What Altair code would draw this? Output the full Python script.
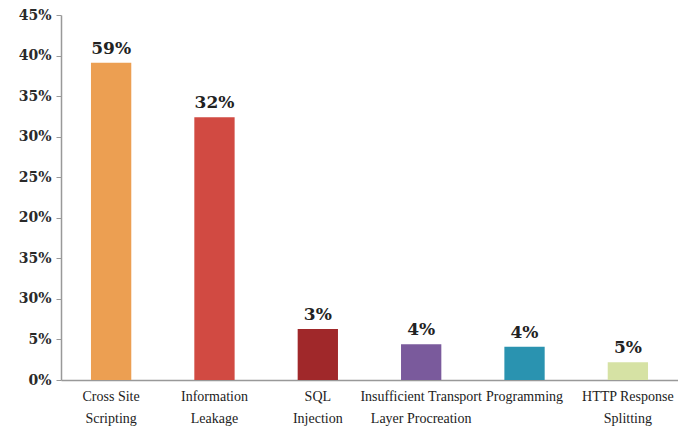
import altair as alt
import pandas as pd

categories = ["Cross Site|Scripting", "Information|Leakage", "SQL|Injection",
              "Insufficient Transport|Layer Procreation", "Programming", "HTTP Response|Splitting"]
values = [39.1, 32.4, 6.3, 4.4, 4.1, 2.2]
bar_labels = ["59%", "32%", "3%", "4%", "4%", "5%"]
colors = ["#EC9F52", "#D14A42", "#A0282A", "#7A5A9C", "#2A93B0", "#D6E2A4"]
tick_values = [0, 5, 10, 15, 20, 25, 30, 35, 40, 45]
tick_labels = ["0%", "5%", "30%", "35%", "20%", "25%", "30%", "35%", "40%", "45%"]

df = pd.DataFrame({"cat": categories, "value": values, "label": bar_labels, "color": colors})

label_js = "[" + ",".join("'" + t + "'" for t in tick_labels) + "]"

x = alt.X("cat:N", sort=categories, title=None,
          scale=alt.Scale(paddingInner=0.61, paddingOuter=0.29),
          axis=alt.Axis(labelAngle=0, labelExpr="split(datum.label, '|')",
                        labelFont="Liberation Serif", labelFontSize=14, labelColor="#222",
                        labelPadding=9, labelLineHeight=22, ticks=False,
                        domainColor="#999", domainWidth=1.5))
y = alt.Y("value:Q", title=None,
          scale=alt.Scale(domain=[0, 45], nice=False),
          axis=alt.Axis(values=tick_values, labelExpr=label_js + "[round(datum.value/5)]",
                        labelFont="DejaVu Serif", labelFontWeight="bold", labelFontSize=14,
                        labelColor="#2a2a2a", tickSize=5, tickColor="#999", domainColor="#999",
                        domainWidth=1.5, grid=False, labelPadding=5))

bars = alt.Chart(df).mark_bar().encode(
    x=x, y=y, color=alt.Color("color:N", scale=None))
text = alt.Chart(df).mark_text(baseline="bottom", dy=-5, font="DejaVu Serif",
                               fontWeight="bold", fontSize=17, color="#222").encode(
    x=alt.X("cat:N", sort=categories), y="value:Q", text="label:N")

chart = (bars + text).properties(
    width=617, height=365,
    background="white",
    autosize=alt.AutoSizeParams(type="none"),
    padding={"left": 61, "top": 15, "right": 0, "bottom": 52},
).configure_view(stroke=None)

chart.save("out.html", embed_options={"renderer": "svg", "actions": False})
